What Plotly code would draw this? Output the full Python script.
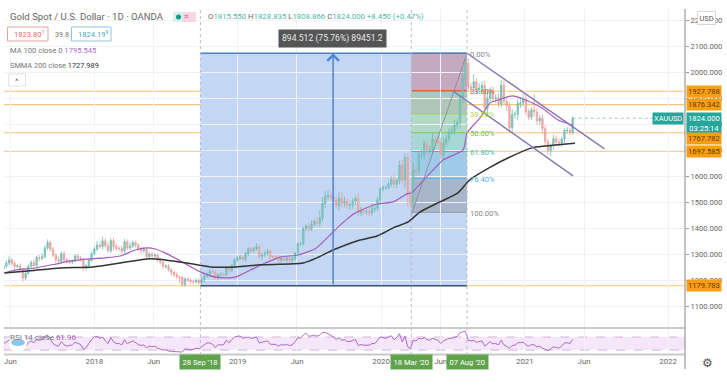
import pandas as pd
import plotly.graph_objects as go

W, H = 727, 389
L, R, T, B = 4, 685, 9, 355
MAIN_BOTTOM, RSI_TOP = 327, 329

close_2017 = [1255,1267,1279,1266,1254,1256,1242,1209,1228,1254,1269,1258,1288,1285,1291,1325,1346,1320,1297,1279,
              1274,1304,1280,1272,1270,1275,1294,1287,1281,1248,1256,1278,1303]
close_2018 = [1320,1336,1331,1352,1333,1315,1353,1330,1323,1323,1313,1349,1325,1332,1345,1336,1323,1314,1319,1291,
              1302,1294,1298,1278,1270,1254,1255,1241,1231,1223,1214,1212,1184,1206,1201,1196,1194,1201,1192,1203,
              1217,1226,1235,1233,1209,1222,1223,1222,1248,1238,1256,1279]
close_2019 = [1285,1289,1282,1303,1322,1314,1322,1329,1293,1298,1303,1313,1292,1290,1290,1276,1286,1279,1286,1277,
              1283,1305,1341,1341,1399,1409,1399,1415,1426,1419,1440,1497,1524,1526,1520,1507,1488,1516,1497,1504,
              1489,1490,1505,1514,1459,1468,1463,1464,1460,1476,1478,1510]
close_2020 = [1552,1557,1557,1571,1589,1570,1583,1644,1586,1674,1530,1498,1625,1620,1683,1683,1726,1700,1702,1743,
              1735,1729,1684,1729,1744,1771,1775,1798,1808,1902,1975,2035,1944,1940,1964,1934,1940,1950,1862,1900,
              1930,1899,1902,1879,1951,1889,1871,1788,1838,1839,1881,1883]
close_2021 = [1898,1850,1828,1856,1848,1814,1824,1784,1734,1700,1719,1745,1733,1728,1744,1777,1777,1769,1824]
closes = close_2017 + close_2018 + close_2019 + close_2020 + close_2021

wick_up = [6,10,14,8,9,6,10,5,12,9, 8,12,7,10,14,12,12,7,9,8,
           11,8,9,7,9,6,8,8,7,6, 6,8,9,10,15,11,16,9,14,9,
           12,10,9,11,12,9,14,8,8,7, 6,10,9,8,7,6,5,8,6,7,
           8,6,7,8,5,4,6,6,8,7, 7,8,9,9,7,6,8,6,5,9,
           7,8,5,8,6,9,10,7,8,6, 8,7,14,8,9,11,8,9,7,8,
           9,8,6,7,5,9,6,7,6,9, 7,12,16,9,18,30,22,19,21,12,
           9,20,24,26,19,12,16,14,15,22, 14,9,11,13,20,10,11,8,9,9,
           8,12,18,9,16,20,15,14,15,29, 12,16,20,14,15,18,24,14,17,20,
           19,14,15,18,20,16,12,40,28,18, 17,30,14,18,16,20,34,14,18,14,
           16,20,18,15,14,22,12,16,22,18, 18,12,10,61,15,12,16,14,12,8,
           16,12,14,9,8,12,9,8]
wick_dn = [6,8,9,9,10,7,10,16,9,7, 8,10,9,12,8,6,8,9,8,9,
           8,9,12,7,9,8,7,8,9,10, 9,6,7,8,7,9,11,10,9,10,
           14,9,8,10,9,8,9,8,9,10, 12,9,7,9,9,9,8,7,8,9,
           7,10,9,8,24,9,8,7,10,8, 6,7,8,9,6,12,7,8,10,8,
           9,7,8,6,7,8,7,6,8,9, 10,8,7,8,12,7,8,9,6,8,
           7,8,6,9,8,7,6,7,8,7, 8,12,9,8,12,14,14,18,16,10,
           9,16,18,17,16,13,18,15,14,12, 12,11,10,12,12,14,13,12,9,8,
           7,12,16,14,13,18,30,47,16,18, 20,17,16,18,16,14,20,14,12,18,
           16,14,13,12,14,15,20,18,24,14, 16,24,16,14,22,20,24,14,12,16,
           16,14,12,20,18,20,16,24,18,14, 14,12,10,18,14,16,20,16,15,23,
           16,18,14,12,16,14,10,8]

rsi_2017 = [50,55,60,52,46,44,38,32,42,52,58,52,62,60,62,72,76,62,50,44,42,56,46,42,44,46,54,50,47,33,37,50,62]
rsi_2018 = [70,72,66,70,58,50,68,55,50,50,46,62,50,53,58,53,47,44,46,37,42,40,42,36,34,30,31,27,26,25,
            24,25,24,34,32,31,32,36,34,40,48,52,52,48,38,46,46,46,60,52,62,70]
rsi_2019 = [72,73,66,68,70,66,68,69,52,54,56,58,48,47,47,42,47,45,47,44,46,55,68,66,76,82,72,74,76,72,
            76,84,84,80,76,70,62,68,60,62,56,56,60,62,44,47,45,46,45,50,50,60]
rsi_2020 = [70,68,66,70,74,62,68,80,55,72,40,34,60,58,66,64,68,62,60,66,62,60,50,58,62,66,66,70,72,82,
            86,87,60,58,60,54,56,58,42,50,56,49,50,46,60,46,42,35,44,45,52,53]
rsi_2021 = [54,46,42,47,46,40,42,36,32,28,34,40,38,36,42,52,52,50,62]
rsi = rsi_2017 + rsi_2018 + rsi_2019 + rsi_2020 + rsi_2021

assert len(closes) == len(wick_up) == len(wick_dn) == len(rsi), (len(closes), len(wick_up), len(wick_dn), len(rsi))

ma_dates = ["2017-05-17","2017-06-14","2017-08-04","2017-09-24","2017-11-01","2017-12-22","2018-01-29","2018-03-08",
            "2018-04-15","2018-05-16","2018-06-05","2018-06-30","2018-08-08","2018-09-28","2018-11-05","2018-11-30",
            "2018-12-26","2019-02-02","2019-03-12","2019-04-19","2019-06-04","2019-07-17","2019-07-30","2019-09-01",
            "2019-10-04","2019-11-01","2019-12-22","2020-02-01","2020-03-07","2020-03-18","2020-05-05","2020-06-07",
            "2020-07-28","2020-08-07","2020-09-09","2020-10-05","2020-10-25","2020-11-30","2020-12-28","2021-02-14",
            "2021-03-27","2021-05-04"]
ma_values = [1229,1240,1248,1263,1275,1283,1287,1294,1317,1325,1321,1306,1275,1233,1213,1210,
             1213,1240,1267,1290,1298,1321,1337,1387,1433,1463,1494,1502,1533,1537,1613,1663,
             1702,1767,1825,1883,1894,1910,1898,1863,1817,1797]
smma_dates = ["2017-05-17","2017-07-22","2017-10-06","2017-12-29","2018-03-08","2018-05-16","2018-06-30","2018-08-25",
              "2018-10-23","2018-12-28","2019-02-27","2019-06-17","2019-07-22","2019-09-01","2019-11-01","2019-12-22",
              "2020-02-01","2020-03-10","2020-04-09","2020-05-30","2020-07-15","2020-08-14","2020-10-02","2020-11-19",
              "2021-01-19","2021-02-21","2021-05-09"]
smma_values = [1229,1237,1248,1252,1267,1283,1279,1267,1252,1252,1260,1267,1287,1317,1352,1371,
               1402,1425,1463,1502,1537,1587,1633,1671,1710,1717,1728]

price_levels = [1927.788, 1876.342, 1767.782, 1697.585, 1179.783]
price_label_shifts = [0, 0, -6, 0, 0]
price_ticks = [1100,1200,1300,1400,1500,1600,1700,1800,1900,2000,2100,2200]
time_tick_dates = ["2017-06-01","2018-01-01","2018-06-01","2019-01-01","2019-06-01","2020-01-01","2020-06-01",
                   "2021-01-01","2021-06-01","2022-01-01"]
time_tick_text = ["Jun","2018","Jun","2019","Jun","2020","Jun","2021","Jun","2022"]
marked_dates = ["2018-09-28","2020-03-18","2020-08-07"]
marked_text = ["28 Sep '18","18 Mar '20","07 Aug '20"]
measure_low, measure_high = 1179.783, 2074.295
fib_low, fib_high = 1462, 2074.295
fib_levels = [0.0, 0.236, 0.382, 0.5, 0.618, 0.786, 1.0]
fib_fills = ["#c5a9c0","#aec7b6","#b1d9c5","#a8d8d6","#9fcbe8","#a9b5cb"]
fib_lines = ["#8a8a9a","#e2603c","#a5cf6a","#79c94f","#3fbfa0","#5aaedc","#9a9aaa"]
fib_texts = ["0.00%","23.60%","38.20%","50.00%","61.80%","76.40%","100.00%"]
fib_text_colors = ["#888888","#e2603c","#b4d455","#66c24a","#3dbf9c","#58b0dc","#888888"]
upper_channel = (("2020-08-07", 2074), ("2021-07-23", 1706))
lower_channel = (("2020-07-02", 1929), ("2021-05-04", 1602))
trend = (("2020-03-18", 1451), ("2020-08-07", 2074))

dates = pd.date_range(end="2021-05-03", periods=len(closes), freq="7D")
opens = [closes[0] - 8] + closes[:-1]
highs = [max(o, c) + u for o, c, u in zip(opens, closes, wick_up)]
lows = [min(o, c) - d for o, c, d in zip(opens, closes, wick_dn)]

FONT = "Roboto"


def px(x):
    return (x - L) / (R - L)


def py(y):
    return (B - y) / (B - T)


fig = go.Figure()
fig.add_trace(go.Candlestick(x=dates, open=opens, high=highs, low=lows, close=closes,
                             increasing=dict(line=dict(color="#6dbcb2", width=0.8), fillcolor="#8ccbc3"),
                             decreasing=dict(line=dict(color="#e8a09b", width=0.8), fillcolor="#eeb5b1"),
                             showlegend=False, hoverinfo="skip"))
fig.add_trace(go.Scatter(x=ma_dates, y=ma_values, mode="lines",
                         line=dict(color="#a35cbb", width=1.2, shape="spline", smoothing=0.6),
                         showlegend=False, hoverinfo="skip"))
fig.add_trace(go.Scatter(x=smma_dates, y=smma_values, mode="lines",
                         line=dict(color="#333333", width=1.5, shape="spline", smoothing=0.6),
                         showlegend=False, hoverinfo="skip"))
fig.add_trace(go.Scatter(x=dates, y=rsi, mode="lines", line=dict(color="#a05cc0", width=0.9),
                         xaxis="x2", yaxis="y2", showlegend=False, hoverinfo="skip"))

shapes = []
shapes.append(dict(type="rect", xref="x", yref="y", x0=marked_dates[0], x1=marked_dates[2], y0=measure_low, y1=measure_high,
                   fillcolor="#c3d6f4", line_width=0, layer="below"))
for i, col in enumerate(fib_fills):
    shapes.append(dict(type="rect", xref="x", yref="y", x0=marked_dates[1], x1=marked_dates[2],
                       y0=fib_high - fib_levels[i] * (fib_high - fib_low),
                       y1=fib_high - fib_levels[i + 1] * (fib_high - fib_low),
                       fillcolor=col, line_width=0, layer="below"))
for lv in price_levels:
    shapes.append(dict(type="line", xref="paper", yref="y", x0=0, x1=1, y0=lv, y1=lv,
                       line=dict(color="#f3c57c", width=1.1), layer="below"))
for i, col in enumerate(fib_lines):
    y = fib_high - fib_levels[i] * (fib_high - fib_low)
    shapes.append(dict(type="line", xref="x", yref="y", x0=marked_dates[1], x1=marked_dates[2], y0=y, y1=y,
                       line=dict(color=col, width=1.4 if i == 1 else 1), layer="below"))
shapes.append(dict(type="line", xref="x", yref="y", x0=marked_dates[0], x1=marked_dates[2], y0=measure_high, y1=measure_high,
                   line=dict(color="#4f7fc8", width=1.5)))
shapes.append(dict(type="line", xref="x", yref="y", x0=marked_dates[0], x1=marked_dates[2], y0=measure_low, y1=measure_low,
                   line=dict(color="#3c5476", width=1.5)))
for (a, b), col, w in ((upper_channel, "#8478b8", 1.4), (lower_channel, "#8478b8", 1.4), (trend, "#8a8a98", 0.9)):
    shapes.append(dict(type="line", xref="x", yref="y", x0=a[0], y0=a[1], x1=b[0], y1=b[1], line=dict(color=col, width=w)))
for d in marked_dates:
    shapes.append(dict(type="line", xref="x", yref="paper", x0=d, x1=d, y0=0, y1=1,
                       line=dict(color="#b8bcc4", width=1, dash="dot")))
shapes.append(dict(type="line", xref="x", yref="y", x0="2021-05-03", x1="2022-02-13", y0=closes[-1], y1=closes[-1],
                   line=dict(color="#8fd0c8", width=1, dash="dot")))
shapes.append(dict(type="rect", xref="x2", yref="y2", x0="2017-05-16", x1="2022-02-13", y0=30, y1=70,
                   fillcolor="#f5e6fa", line=dict(color="#c9a6d6", width=0.8, dash="dash"), layer="below"))
for y0 in (328, 354.5):
    shapes.append(dict(type="line", xref="paper", yref="paper", x0=0, x1=1, y0=py(y0), y1=py(y0),
                       line=dict(color="#c9c9c9", width=2)))
shapes.append(dict(type="line", xref="paper", yref="paper", x0=1, x1=1, y0=py(369), y1=1,
                   line=dict(color="#9a9a9a", width=1.2)))
shapes.append(dict(type="rect", xref="paper", yref="paper", x0=px(7.5), x1=px(48), y0=py(41), y1=py(27),
                   line=dict(color="#e7a3a0", width=1), fillcolor="white"))
shapes.append(dict(type="rect", xref="paper", yref="paper", x0=px(71.5), x1=px(111), y0=py(41), y1=py(27),
                   line=dict(color="#8fc6dc", width=1), fillcolor="white"))
shapes.append(dict(type="rect", xref="paper", yref="paper", x0=px(8.5), x1=px(25.5), y0=py(86), y1=py(74),
                   line=dict(color="#e3e3e3", width=1), fillcolor="white"))
shapes.append(dict(type="rect", xref="paper", yref="paper", x0=px(173), x1=px(183), y0=py(22), y1=py(12),
                   line_width=0, fillcolor="#d8f0ec"))
shapes.append(dict(type="rect", xref="paper", yref="paper", x0=px(183), x1=px(196), y0=py(22), y1=py(12),
                   line_width=0, fillcolor="#fbd5e2"))
shapes.append(dict(type="circle", xref="paper", yref="paper", x0=px(176), x1=px(181), y0=py(19.5), y1=py(14.5),
                   line_width=0, fillcolor="#0f9a86"))
shapes.append(dict(type="circle", xref="paper", yref="paper", x0=px(9), x1=px(27), y0=py(352), y1=py(333),
                   line_width=0, fillcolor="white"))
shapes.append(dict(type="circle", xref="paper", yref="paper", x0=px(11), x1=px(25), y0=py(346), y1=py(339),
                   line_width=0, fillcolor="#8cc6ea"))

ann = []


def text(x, y, s, size=8, color="#666666", anchor="left", **kw):
    ann.append(dict(xref="paper", yref="paper", x=px(x), y=py(y), text=s, showarrow=False, xanchor=anchor, yanchor="middle",
                    font=dict(family=FONT, size=size, color=color), **kw))


text(8, 17, "Gold Spot / U.S. Dollar · 1D · OANDA", size=9.6, color="#666666")
text(186.5, 17, "≈", size=8, color="#d0507a", anchor="center")
v = '<span style="color:#4db6a8">%s</span>'
text(206, 17, "O" + v % "1815.550" + " H" + v % "1828.835" + " L" + v % "1808.866" + " C" + v % "1824.000" + " " + v % "+8.450 (+0.47%)",
     size=7.8, color="#666666")
text(12, 34, "1823.80<sup>1</sup>", size=7.6, color="#e0706c")
text(53, 34, "39.8", size=7.2, color="#777777")
text(76, 34, "1824.19<sup>9</sup>", size=7.6, color="#4aa3c7")
text(8, 50.5, "MA 100 close 0 " + '<span style="color:#b06cc4">1795.545</span>', size=7.6, color="#777777")
text(8, 65, "SMMA 200 close " + '<span style="color:#333333">1727.989</span>', size=7.4, color="#777777")
text(17, 81, "^", size=8, color="#555555", anchor="center")
text(8, 337, "RSI 14 close " + '<span style="color:#a05cc0">61.96</span>', size=8, color="#777777")

ann.append(dict(xref="paper", yref="paper", x=px(332), y=py(38.5), text="894.512 (75.76%) 89451.2", showarrow=False,
                font=dict(family=FONT, size=8.6, color="#e8e8e8"), bgcolor="#555555", borderpad=3, xanchor="center", yanchor="middle"))
ann.append(dict(xref="x", yref="y", axref="x", ayref="y", x="2019-09-01", y=measure_high, ax="2019-09-01", ay=measure_low,
                text="", showarrow=True, arrowhead=4, arrowsize=1.5, arrowwidth=1.5, arrowcolor="#4f86d4"))
for i, t in enumerate(fib_texts):
    ann.append(dict(xref="x", yref="y", x=marked_dates[2], y=fib_high - fib_levels[i] * (fib_high - fib_low), text=t,
                    showarrow=False, xanchor="left", yanchor="middle", xshift=1, yshift=-1,
                    font=dict(family=FONT, size=7.6, color=fib_text_colors[i])))
ann.append(dict(xref="paper", yref="y", x=1, y=closes[-1], text="1824.000<br>03:25:14", showarrow=False, xanchor="left",
                yanchor="top", yshift=6, xshift=1, bgcolor="#26a69a", font=dict(family=FONT, size=7.6, color="white"),
                borderpad=1, align="center"))
ann.append(dict(xref="paper", yref="y", x=1, y=closes[-1], text="XAUUSD", showarrow=False, xanchor="right", yanchor="middle",
                xshift=-1, bgcolor="#26a69a", font=dict(family=FONT, size=7.4, color="white"), borderpad=1))
for lv, shift in zip(price_levels, price_label_shifts):
    ann.append(dict(xref="paper", yref="y", x=1, y=lv, text="%.3f" % lv, showarrow=False, xanchor="left", yanchor="middle",
                    xshift=1, yshift=shift, bgcolor="#fb9d13", font=dict(family=FONT, size=7.6, color="#5b3a00"), borderpad=1))
ann.append(dict(xref="paper", yref="paper", x=px(706), y=py(18), text="USD", showarrow=False, xanchor="center", yanchor="middle",
                bgcolor="white", bordercolor="#d5d5d5", borderwidth=1, borderpad=1.5, font=dict(family=FONT, size=7.4, color="#555555")))
for d, t in zip(marked_dates, marked_text):
    ann.append(dict(xref="x2", yref="paper", x=d, y=py(362), text=t, showarrow=False, xanchor="center", yanchor="middle",
                    bgcolor="#5fa34c", borderpad=2.5, font=dict(family=FONT, size=7.6, color="white")))
text(707, 363, "⚙", size=12, color="#555555", anchor="center")

fig.update_layout(
    width=W, height=H, margin=dict(l=L, r=W - R, t=T, b=H - B), autosize=False,
    paper_bgcolor="white", plot_bgcolor="white", showlegend=False, shapes=shapes, annotations=ann,
    font=dict(family=FONT, size=8, color="#666666"),
    xaxis=dict(domain=[0, 1], anchor="y", range=["2017-05-16", "2022-02-13"], type="date", rangeslider=dict(visible=False),
               tickvals=time_tick_dates, showticklabels=False, showgrid=True, gridcolor="#eff2f7", gridwidth=1, zeroline=False, ticks=""),
    yaxis=dict(domain=[(B - MAIN_BOTTOM) / (B - T), 1], anchor="x", side="right", range=[1021, 2244], tickvals=price_ticks,
               tickformat=".3f", showgrid=True, gridcolor="#eff2f7", gridwidth=1, zeroline=False, ticks="outside", ticklen=3,
               tickcolor="#9a9a9a", tickfont=dict(family=FONT, size=7.6, color="#666666")),
    xaxis2=dict(domain=[0, 1], anchor="y2", range=["2017-05-16", "2022-02-13"], type="date", tickvals=time_tick_dates,
                ticktext=time_tick_text, showgrid=True, gridcolor="#eff2f7", zeroline=False, ticks="",
                tickfont=dict(family=FONT, size=7.8, color="#666666")),
    yaxis2=dict(domain=[0, (B - RSI_TOP) / (B - T)], anchor="x2", side="right", range=[15, 94.4], showticklabels=False,
                showgrid=False, zeroline=False, ticks=""),
)

fig.write_html("out.html", config={"displayModeBar": False},
               post_script="document.body.style.margin='0';document.body.style.overflow='hidden';")
